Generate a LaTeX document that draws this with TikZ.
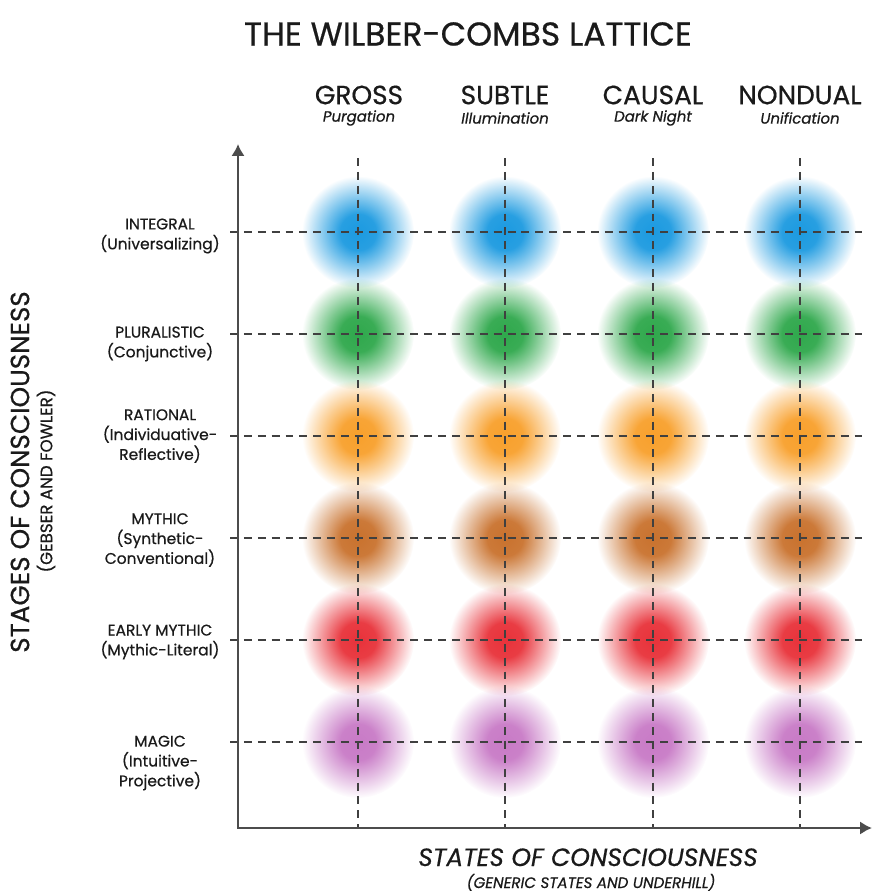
\documentclass[tikz,border=0pt]{standalone}
\usepackage{fontspec}
\setmainfont{Poppins}[FakeBold=0.6]
\usetikzlibrary{arrows.meta,fadings}

\definecolor{lvlblue}{HTML}{1C9AE0}
\definecolor{lvlgreen}{HTML}{2FA84C}
\definecolor{lvlorange}{HTML}{F8A02C}
\definecolor{lvlbrown}{HTML}{C9722E}
\definecolor{lvlred}{HTML}{E8323A}
\definecolor{lvlpurple}{HTML}{C87AC6}
\definecolor{ink}{HTML}{1A1A1A}

\pgfdeclareradialshading{blobshade}{\pgfpointorigin}{color(0bp)=(pgftransparent!0); color(8bp)=(pgftransparent!5); color(17bp)=(pgftransparent!55); color(25bp)=(pgftransparent!100); color(50bp)=(pgftransparent!100)}
\pgfdeclarefading{blobfade}{\pgfuseshading{blobshade}}

\begin{document}
\begin{tikzpicture}[x=0.02cm,y=-0.02cm,
  every node/.style={inner sep=0pt,align=center,text=ink},
  ttl/.style={font=\fontsize{18.8}{22}\selectfont},
  colhead/.style={font=\fontsize{15}{18}\selectfont},
  colsub/.style={font=\itshape\fontsize{8.5}{10}\selectfont},
  rowlab/.style={font=\fontsize{8.8}{11.3}\selectfont},
  axtitle/.style={font=\fontsize{14.9}{18}\selectfont},
  axsub/.style={font=\fontsize{9.5}{11}\selectfont},
  grid/.style={dash pattern=on 4.5pt off 3.4pt,line width=1.1pt,black!75},
  axis/.style={line width=1.3pt,black!70},
  blob/.style={fill=#1,path fading=blobfade}]
\useasboundingbox (0,0) rectangle (873,892);

\foreach \c [count=\r] in {lvlblue,lvlgreen,lvlorange,lvlbrown,lvlred,lvlpurple}
  \foreach \x in {358,505,653,800}
    \fill[blob=\c] (\x,130+102*\r) circle (1.12cm);

\node[ttl] (title) at (468,34) {THE WILBER-COMBS LATTICE};

\node[colhead] (gross) at (359,95) {GROSS};
\node[colsub] (grosssub) at (359,118) {Purgation};
\node[colhead] (subtle) at (505,95) {SUBTLE};
\node[colsub] (subtlesub) at (505,118) {Illumination};
\node[colhead] (causal) at (653,95) {CAUSAL};
\node[colsub] (causalsub) at (653,118) {Dark Night};
\node[colhead] (nondual) at (800,95) {NONDUAL};
\node[colsub] (nondualsub) at (800,118) {Unification};

\node[rowlab] (integral) at (160,236) {INTEGRAL\\(Universalizing)};
\node[rowlab] (pluralistic) at (160,344) {PLURALISTIC\\(Conjunctive)};
\node[rowlab] (rational) at (160,436) {RATIONAL\\(Individuative-\\Reflective)};
\node[rowlab] (mythic) at (160,540) {MYTHIC\\(Synthetic-\\Conventional)};
\node[rowlab] (earlymythic) at (160,642) {EARLY MYTHIC\\(Mythic-Literal)};
\node[rowlab] (magic) at (160,763) {MAGIC\\(Intuitive-\\Projective)};

\node[axtitle,rotate=90] (stages) at (20,472) {STAGES OF CONSCIOUSNESS};
\node[axsub,rotate=90] (stagessub) at (46,481) {(GEBSER AND FOWLER)};
\node[axtitle,anchor=base,font=\itshape\fontsize{14.2}{17}\selectfont] (states) at (588,866) {STATES OF CONSCIOUSNESS};
\node[axsub,anchor=base,font=\itshape\fontsize{8.6}{10}\selectfont] (statessub) at (591,888) {(GENERIC STATES AND UNDERHILL)};

\coordinate (origin) at (238,828);
\coordinate (ytop) at (238,144);
\coordinate (xend) at (872,828);

\foreach \r in {1,...,6} {
  \coordinate (w\r) at (230,130+102*\r);
  \coordinate (e\r) at (862,130+102*\r);
  \draw[grid] (w\r) -- (e\r);
}
\foreach \x [count=\k] in {358,505,653,800} {
  \coordinate (n\k) at (\x,158);
  \coordinate (s\k) at (\x,828);
  \draw[grid] (n\k) -- (s\k);
}

\draw[axis,{Latex[length=2.4mm,width=2.7mm]}-{Latex[length=2.4mm,width=2.7mm]}] (ytop) -- (origin) -- (xend);
\end{tikzpicture}
\end{document}
